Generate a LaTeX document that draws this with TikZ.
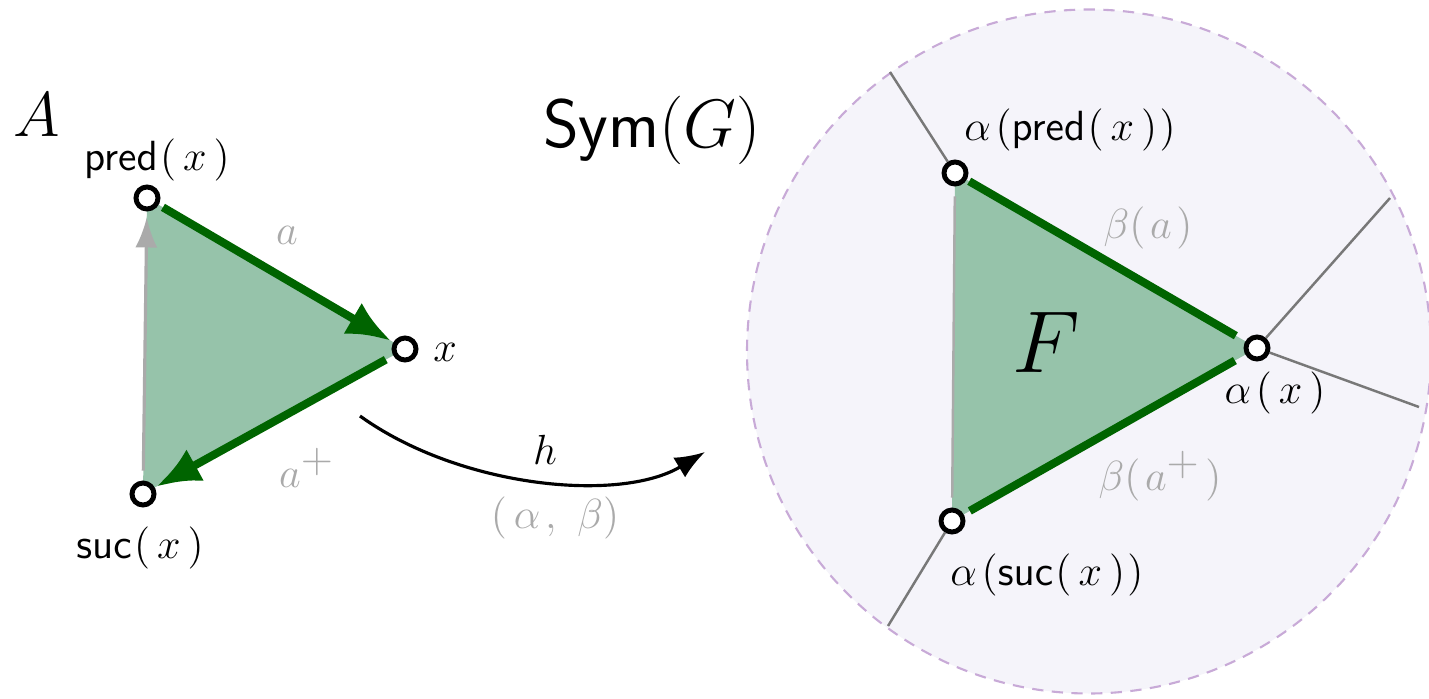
\documentclass[tikz,border=0pt]{standalone}
\usepackage{fix-cm}
\usepackage{amssymb}
\usepackage{amsmath}
\usepackage{xcolor}
\usepackage{tikz}
\usetikzlibrary{arrows.meta}
\newcommand{\prn}[1]{(\mkern3mu #1\mkern3mu)}
\newcommand{\apl}{a^{\textstyle +}}

\begin{document}
\begin{tikzpicture}[
  vtx/.style={circle, draw=black, fill=white, line width=1.4pt, inner sep=0pt, minimum size=0.22cm},
  lbl/.style={font=\fontsize{12}{14}\selectfont, inner sep=0pt},
  glbl/.style={font=\fontsize{12}{14}\selectfont, inner sep=0pt, text=c3},
  garc/.style={c2, line width=2.3pt},
  rim/.style={c6, line width=0.7pt}]
\definecolor{c1}{RGB}{150,195,170}
\definecolor{c2}{RGB}{0,100,0}
\definecolor{c3}{RGB}{170,170,170}
\definecolor{c4}{RGB}{245,244,250}
\definecolor{c5}{RGB}{200,170,215}
\definecolor{c6}{RGB}{120,120,120}
\useasboundingbox (0,0) rectangle (14.29,6.98);

\coordinate (C0) at (10.89,3.465);
\fill[c4] (C0) circle (3.42);
\draw[c5, line width=0.6pt, dash pattern=on 3.2pt off 2.4pt] (C0) circle (3.42);

\coordinate (A1) at (1.47,5.00);
\coordinate (A2) at (4.05,3.49);
\coordinate (A3) at (1.43,2.04);
\coordinate (B1) at (9.55,5.25);
\coordinate (B2) at (12.57,3.50);
\coordinate (B3) at (9.52,1.77);
\coordinate (D1) at (8.90,6.26);
\coordinate (D2) at (13.90,5.00);
\coordinate (D3) at (14.19,2.91);
\coordinate (D4) at (8.88,0.72);
\coordinate (H1) at (3.60,2.82);
\coordinate (H2) at (7.05,2.46);

\fill[c1] (A1) -- (A2) -- (A3) -- cycle;
\fill[c1] (B1) -- (B2) -- (B3) -- cycle;

\node[vtx] (A10) at (A1) {};
\node[vtx] (A20) at (A2) {};
\node[vtx] (A30) at (A3) {};
\node[vtx] (B10) at (B1) {};
\node[vtx] (B20) at (B2) {};
\node[vtx] (B30) at (B3) {};

\draw[c3, line width=0.9pt, shorten <=0.1cm, shorten >=0.06cm, -{Latex[length=3mm,width=2.2mm]}] (A30) -- (A10);
\draw[garc, shorten <=0.05cm, shorten >=0.03cm, -{Latex[length=4.4mm,width=3.6mm]}] (A10) -- (A20);
\draw[garc, shorten <=0.085cm, shorten >=0.02cm, -{Latex[length=4.4mm,width=3.6mm]}] (A20) -- (A30);

\draw[c3, line width=0.7pt, shorten <=0.1cm, shorten >=0.1cm] (B30) -- (B10);
\draw[garc, shorten <=0.03cm, shorten >=0.11cm] (B10) -- (B20);
\draw[garc, shorten <=0.12cm, shorten >=0.07cm] (B20) -- (B30);
\draw[rim] (B10) -- (D1);
\draw[rim] (B20) -- (D2);
\draw[rim] (B20) -- (D3);
\draw[rim] (B30) -- (D4);

\draw[line width=0.9pt, -{Latex[length=3mm,width=2.3mm]}] (H1) .. controls (4.6,2.1) and (6.2,1.95) .. (H2);

\node (L1) at (0.37,5.83) {\fontsize{18}{20}\selectfont $A$};
\node[lbl] (L2) at (1.57,5.38) {$\mathsf{pred}\mkern1mu\prn{x}$};
\node[lbl] (L3) at (4.45,3.46) {$x$};
\node[lbl] (L4) at (1.40,1.50) {$\mathsf{suc}\mkern1mu\prn{x}$};
\node[glbl] (L5) at (2.87,4.63) {$a$};
\node[glbl] (L6) at (3.07,2.30) {$\apl$};
\node (L7) at (6.52,5.68) {\fontsize{19.5}{22}\selectfont $\mathsf{Sym}(G)$};
\node[lbl] (L8) at (5.45,2.48) {$h$};
\node[glbl] (L9) at (5.55,1.80) {$(\mkern3mu\alpha\mkern2mu,\ \beta)$};
\node (L10) at (10.46,3.56) {\fontsize{25}{28}\selectfont $F$};
\node[lbl] (L11) at (10.70,5.68) {$\alpha\mkern2mu(\mathsf{pred}\mkern1mu\prn{x}\mkern1mu)$};
\node[glbl] (L12) at (11.48,4.70) {$\beta(\mkern2mu a\mkern2mu)$};
\node[lbl] (L13) at (12.75,3.05) {$\alpha\mkern2mu\prn{x}$};
\node[glbl] (L14) at (11.60,2.22) {$\beta(\mkern2mu\apl\mkern2mu)$};
\node[lbl] (L15) at (10.47,1.23) {$\alpha\mkern2mu(\mathsf{suc}\mkern1mu\prn{x}\mkern1mu)$};
\end{tikzpicture}
\end{document}
